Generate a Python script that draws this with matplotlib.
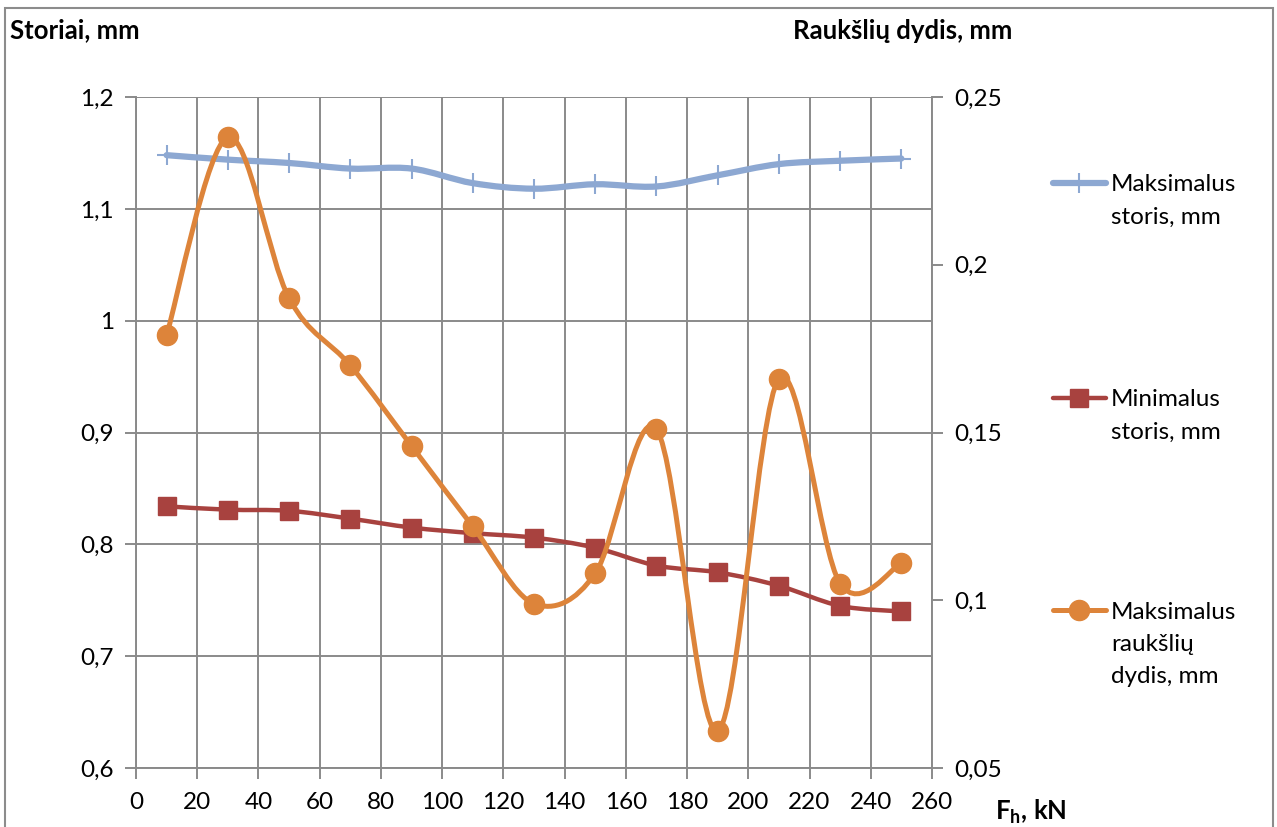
import numpy as np
import matplotlib
matplotlib.use("Agg")
import matplotlib.pyplot as plt
from matplotlib.path import Path
from matplotlib.patches import PathPatch, Rectangle
from matplotlib.lines import Line2D

plt.rcParams['font.family'] = ['Lato', 'DejaVu Sans']

# data
force = [10, 30, 50, 70, 90, 110, 130, 150, 170, 190, 210, 230, 250]
max_storis = [1.148, 1.144, 1.141, 1.136, 1.136, 1.123, 1.118, 1.122, 1.120, 1.130, 1.140, 1.143, 1.145]
min_storis = [0.834, 0.831, 0.830, 0.823, 0.815, 0.810, 0.806, 0.797, 0.781, 0.775, 0.763, 0.745, 0.740]
rauksles = [0.179, 0.238, 0.190, 0.170, 0.146, 0.122, 0.099, 0.108, 0.151, 0.061, 0.166, 0.105, 0.111]

left_ticks = [0.6, 0.7, 0.8, 0.9, 1.0, 1.1, 1.2]
left_labels = ["0,6", "0,7", "0,8", "0,9", "1", "1,1", "1,2"]
right_ticks = [0.05, 0.10, 0.15, 0.20, 0.25]
right_labels = ["0,05", "0,1", "0,15", "0,2", "0,25"]
x_ticks = list(range(0, 261, 20))

legend_labels = ["Maksimalus\nstoris, mm", "Minimalus\nstoris, mm", "Maksimalus\nraukšlių\ndydis, mm"]

c_blue = "#8DA8D2"
c_red = "#A8423F"
c_orange = "#DD843A"
c_grid = "#8A8A8A"


def smooth_path(xs, ys):
    # excel-like smoothed line: bezier segments through the points
    p = np.column_stack([xs, ys]).astype(float)
    n = len(p)
    verts = [p[0]]
    codes = [Path.MOVETO]
    for i in range(n - 1):
        p0 = p[i - 1] if i > 0 else p[i]
        p3 = p[i + 2] if i + 2 < n else p[i + 1]
        c1 = p[i] + (p[i + 1] - p0) / 6.0
        c2 = p[i + 1] - (p3 - p[i]) / 6.0
        verts += [c1, c2, p[i + 1]]
        codes += [Path.CURVE4] * 3
    return Path(verts, codes)


fig = plt.figure(figsize=(12.77, 8.27), dpi=100)
fig.patches.append(Rectangle((0.004, -0.01), 0.993, 1.0, transform=fig.transFigure,
                             fill=False, edgecolor="#8C8C8C", linewidth=1.5))

ax = fig.add_axes([0.1065, 0.0713, 0.6233, 0.8114])
ax2 = ax.twinx()

ax.set_xlim(0, 260)
ax.set_ylim(0.6, 1.2)
ax2.set_ylim(0.05, 0.25)

ax.set_xticks(x_ticks)
ax.set_yticks(left_ticks)
ax.set_yticklabels(left_labels)
ax2.set_yticks(right_ticks)
ax2.set_yticklabels(right_labels)

ax.grid(True, color=c_grid, linewidth=1.4)
ax.set_axisbelow(True)
for a in (ax, ax2):
    for s in a.spines.values():
        s.set_visible(False)
    a.tick_params(colors=c_grid, labelcolor="black", labelsize=17.5, width=1.4, length=8, pad=8)
ax.tick_params(axis='x', pad=9)
ax.spines['bottom'].set_visible(True)
ax.spines['bottom'].set_color(c_grid)
ax.spines['bottom'].set_linewidth(1.4)
ax.spines['left'].set_visible(True)
ax.spines['left'].set_color(c_grid)
ax.spines['left'].set_linewidth(1.4)
ax2.spines['right'].set_visible(True)
ax2.spines['right'].set_color(c_grid)
ax2.spines['right'].set_linewidth(1.4)

# max thickness
ax.add_patch(PathPatch(smooth_path(force, max_storis), fill=False, edgecolor=c_blue,
                       linewidth=4.5, capstyle='round', zorder=3))
ax.plot(force, max_storis, linestyle='none', marker='+', markersize=15,
        markeredgewidth=1.5, color=c_blue, zorder=4)

# min thickness
ax.add_patch(PathPatch(smooth_path(force, min_storis), fill=False, edgecolor=c_red,
                       linewidth=3.2, capstyle='round', zorder=3))
ax.plot(force, min_storis, linestyle='none', marker='s', markersize=12.5,
        color=c_red, zorder=4)

# wrinkle size
ax2.add_patch(PathPatch(smooth_path(force, rauksles), fill=False, edgecolor=c_orange,
                        linewidth=3.6, capstyle='round', zorder=3))
ax2.plot(force, rauksles, linestyle='none', marker='o', markersize=14.5,
         color=c_orange, zorder=4)

fig.text(0.008, 0.963, "Storiai, mm", fontsize=18.5, fontweight='bold', va='center', ha='left')
fig.text(0.793, 0.963, "Raukšlių dydis, mm", fontsize=18.5, fontweight='bold', va='center', ha='right')
fig.text(0.779, 0.018, r"F$_\mathregular{h}$, kN", fontsize=18.5, fontweight='bold', va='center', ha='left')

# legend drawn by hand so the key sits on the first text line
leg_y = [0.779, 0.519, 0.262]
styles = [dict(color=c_blue, marker='+', markersize=15, markeredgewidth=1.5, linewidth=4.5),
          dict(color=c_red, marker='s', markersize=12.5, linewidth=3.2),
          dict(color=c_orange, marker='o', markersize=14.5, linewidth=3.6)]
line_step = 32 / 827
for yy, lab, st in zip(leg_y, legend_labels, styles):
    fig.add_artist(Line2D([0.8245, 0.8660], [yy, yy], transform=fig.transFigure,
                          solid_capstyle='round', color=st['color'], linewidth=st['linewidth']))
    fig.add_artist(Line2D([0.8452], [yy], transform=fig.transFigure, linestyle='none',
                          **{k: v for k, v in st.items() if k != 'linewidth'}))
    for i, part in enumerate(lab.split("\n")):
        fig.text(0.8700, yy - 0.0105 - i * line_step, part, fontsize=17.5,
                 va='baseline', ha='left')

fig.savefig("out.png", dpi=100)
